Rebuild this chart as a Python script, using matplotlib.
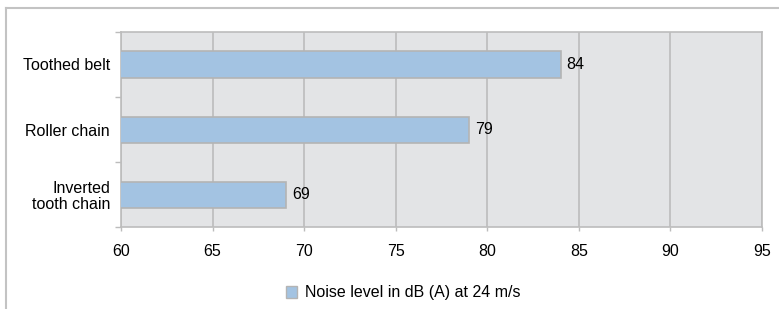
import matplotlib.pyplot as plt
from matplotlib.lines import Line2D
from matplotlib.patches import Patch

plt.rcParams['font.family'] = ['Liberation Sans', 'DejaVu Sans']

categories = ['Inverted\ntooth chain', 'Roller chain', 'Toothed belt']
noise_db = [69, 79, 84]
xticks = [60, 65, 70, 75, 80, 85, 90, 95]
series_name = 'Noise level in dB (A) at 24 m/s'

bar_col = '#a3c3e2'
edge_col = '#b4b4b4'
grid_col = '#bcbcbc'
bg_col = '#e3e4e6'
fs = 11.5

fig = plt.figure(figsize=(7.79, 3.09), dpi=100)
ax = fig.add_axes([121/779, 1-227/309, (762-121)/779, (227-32)/309])
ax.set_facecolor(bg_col)

ypos = list(range(len(categories)))
ax.barh(ypos, noise_db, left=0, height=0.4, color=bar_col, edgecolor=edge_col,
        linewidth=1.2, zorder=3)
for y, v in zip(ypos, noise_db):
    ax.text(v + 0.33, y, str(v), va='center', ha='left', fontsize=fs, zorder=4)

ax.set_xlim(60, 95)
ax.set_ylim(-0.5, 2.5)
ax.set_xticks(xticks)
ax.set_xticklabels([str(t) for t in xticks], fontsize=fs)
ax.set_yticks(ypos)
ax.set_yticklabels(categories, fontsize=fs, multialignment='right',
                   linespacing=1.05)
ax.tick_params(axis='y', length=0, pad=8)
ax.set_yticks([-0.5, 0.5, 1.5, 2.5], minor=True)
ax.tick_params(axis='y', which='minor', length=4, color=grid_col, width=1)
ax.tick_params(axis='x', length=3, color=grid_col, width=1, pad=9)
ax.grid(axis='x', color=grid_col, linewidth=1.2, zorder=0)
ax.set_axisbelow(True)
for s in ax.spines.values():
    s.set_color(grid_col)
    s.set_linewidth(1.2)

# outer chart frame (clipped at right and bottom)
fig.add_artist(Line2D([6/779, 1], [1-8/309, 1-8/309], color='#c3c3c3', lw=1.5))
fig.add_artist(Line2D([6/779, 6/779], [1-8/309, 0], color='#c3c3c3', lw=1.5))

handle = Patch(facecolor=bar_col, edgecolor=edge_col, linewidth=1)
fig.legend([handle], [series_name], loc='center', bbox_to_anchor=(403/779, 1-293/309),
           frameon=False, fontsize=fs, handlelength=0.7, handleheight=0.7,
           handletextpad=0.5)

fig.savefig('out.png', dpi=100)
